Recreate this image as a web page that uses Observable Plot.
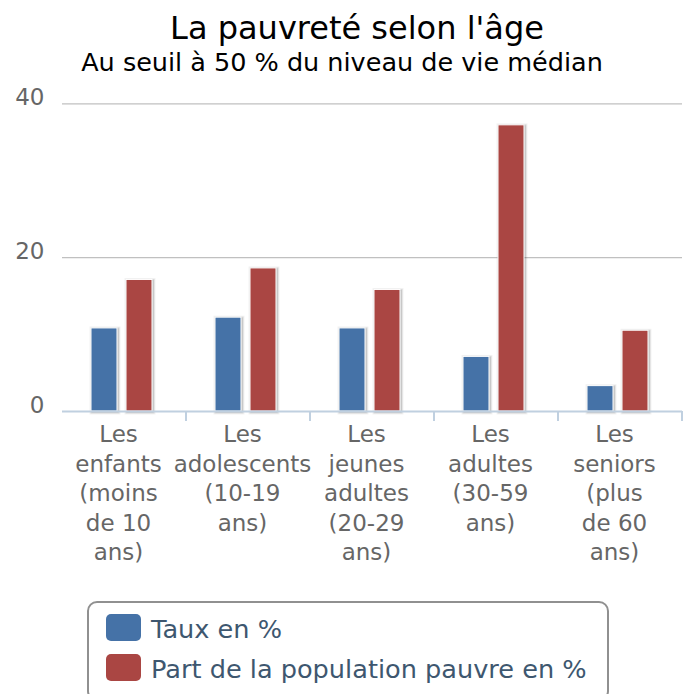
<!DOCTYPE html>
<html>
<head>
<meta charset="utf-8">
<script src="https://cdn.jsdelivr.net/npm/d3@7"></script>
<script src="https://cdn.jsdelivr.net/npm/@observablehq/plot@0.6"></script>
<style>
  html, body { margin: 0; padding: 0; background: #fff; }
  #wrap { position: relative; width: 683px; height: 694px; overflow: hidden; font-family: "DejaVu Sans", sans-serif; }
  .title { position: absolute; white-space: nowrap; line-height: 1; }
  #chart { position: absolute; left: 0; top: 80px; }
  #legend { position: absolute; left: 87px; top: 601px; width: 522px; height: 100px; border: 2px solid #909090; border-radius: 10px; box-sizing: border-box; }
  .item { position: absolute; white-space: nowrap; line-height: 1; font-size: 25.6px; color: #3E576F; }
  .sw { position: absolute; left: 17px; width: 35px; height: 27px; border-radius: 5px; }
</style>
</head>
<body>
<div id="wrap">
  <div class="title" id="t1" style="font-size:32px;color:#000;top:12px;left:357px;transform:translateX(-50%);">La pauvreté selon l'âge</div>
  <div class="title" id="t2" style="font-size:25.5px;color:#000;top:49.5px;left:342px;transform:translateX(-50%);">Au seuil à 50 % du niveau de vie médian</div>
  <div id="chart"></div>
  <div id="legend"></div>
</div>
<script>
const categories = [
  "Les enfants (moins de 10 ans)",
  "Les adolescents (10-19 ans)",
  "Les jeunes adultes (20-29 ans)",
  "Les adultes (30-59 ans)",
  "Les seniors (plus de 60 ans)"
];
const tickLabels = [
  "Les\nenfants\n(moins\nde 10\nans)",
  "Les\nadolescents\n(10-19\nans)",
  "Les\njeunes\nadultes\n(20-29\nans)",
  "Les\nadultes\n(30-59\nans)",
  "Les\nseniors\n(plus\nde 60\nans)"
];
const series = ["Taux en %", "Part de la population pauvre en %"];
const taux = [10.8, 12.2, 10.8, 7.1, 3.3];
const part = [17.1, 18.6, 15.8, 37.2, 10.5];
const colors = ["#4572A7", "#AA4643"];
const yTicks = [0, 20, 40];

const data = [];
categories.forEach((c, i) => {
  data.push({cat: c, series: series[0], value: taux[i]});
  data.push({cat: c, series: series[1], value: part[i]});
});
const labelOf = new Map(categories.map((c, i) => [c, tickLabels[i]]));

const common = {fx: "cat", x: "series", y: "value", dx: -2};

const chart = Plot.plot({
  width: 683,
  height: 500,
  marginLeft: 61,
  marginRight: 1,
  marginTop: 23.3,
  marginBottom: 169,
  style: {fontFamily: "DejaVu Sans, sans-serif", background: "transparent", overflow: "visible"},
  fx: {domain: categories, padding: 0},
  x: {domain: series, paddingInner: 0.25, paddingOuter: 0.85, axis: null},
  y: {domain: [0, 40]},
  color: {domain: series, range: colors},
  marks: [
    Plot.gridY(yTicks.slice(1), {stroke: "#C0C0C0", strokeOpacity: 1, strokeWidth: 1.2}),
    Plot.barY(data, {...common, dx: -1, dy: 1, fill: "none", stroke: "black", strokeOpacity: 0.05, strokeWidth: 5}),
    Plot.barY(data, {...common, dx: -1, dy: 1, fill: "none", stroke: "black", strokeOpacity: 0.1, strokeWidth: 3}),
    Plot.barY(data, {...common, dx: -1, dy: 1, fill: "none", stroke: "black", strokeOpacity: 0.15, strokeWidth: 1}),
    Plot.barY(data, {...common, fill: "series", stroke: "white", strokeWidth: 1}),
    Plot.ruleY([0], {stroke: "#C0D0E0", strokeWidth: 2}),
    Plot.axisY({ticks: yTicks, tickSize: 0, tickPadding: 18, fontSize: 23, fill: "#666", dy: -6, label: null}),
    Plot.axisFx({anchor: "bottom", tickSize: 0, tickPadding: 10, dx: -6, fontSize: 23, fill: "#666", lineHeight: 1.283, label: null, tickFormat: d => labelOf.get(d)})
  ]
});
document.getElementById("chart").appendChild(chart);

// category boundary ticks on the x axis, placed with Plot's own scales
const fx = chart.scale("fx");
const ys = chart.scale("y");
const y0 = ys.apply(0);
const svg = d3.select(chart);
svg.append("g").selectAll("line").data(categories).join("line")
  .attr("x1", d => fx.apply(d) + fx.bandwidth)
  .attr("x2", d => fx.apply(d) + fx.bandwidth)
  .attr("y1", y0)
  .attr("y2", y0 + 10)
  .attr("stroke", "#C0D0E0")
  .attr("stroke-width", 2);

// legend
const legend = document.getElementById("legend");
series.forEach((s, i) => {
  const sw = document.createElement("div");
  sw.className = "sw";
  sw.style.background = colors[i];
  sw.style.top = (11 + i * 39.5) + "px";
  legend.appendChild(sw);
  const t = document.createElement("div");
  t.className = "item";
  t.style.left = "62px";
  t.style.top = (13.5 + i * 40) + "px";
  t.textContent = s;
  legend.appendChild(t);
});
</script>
</body>
</html>
